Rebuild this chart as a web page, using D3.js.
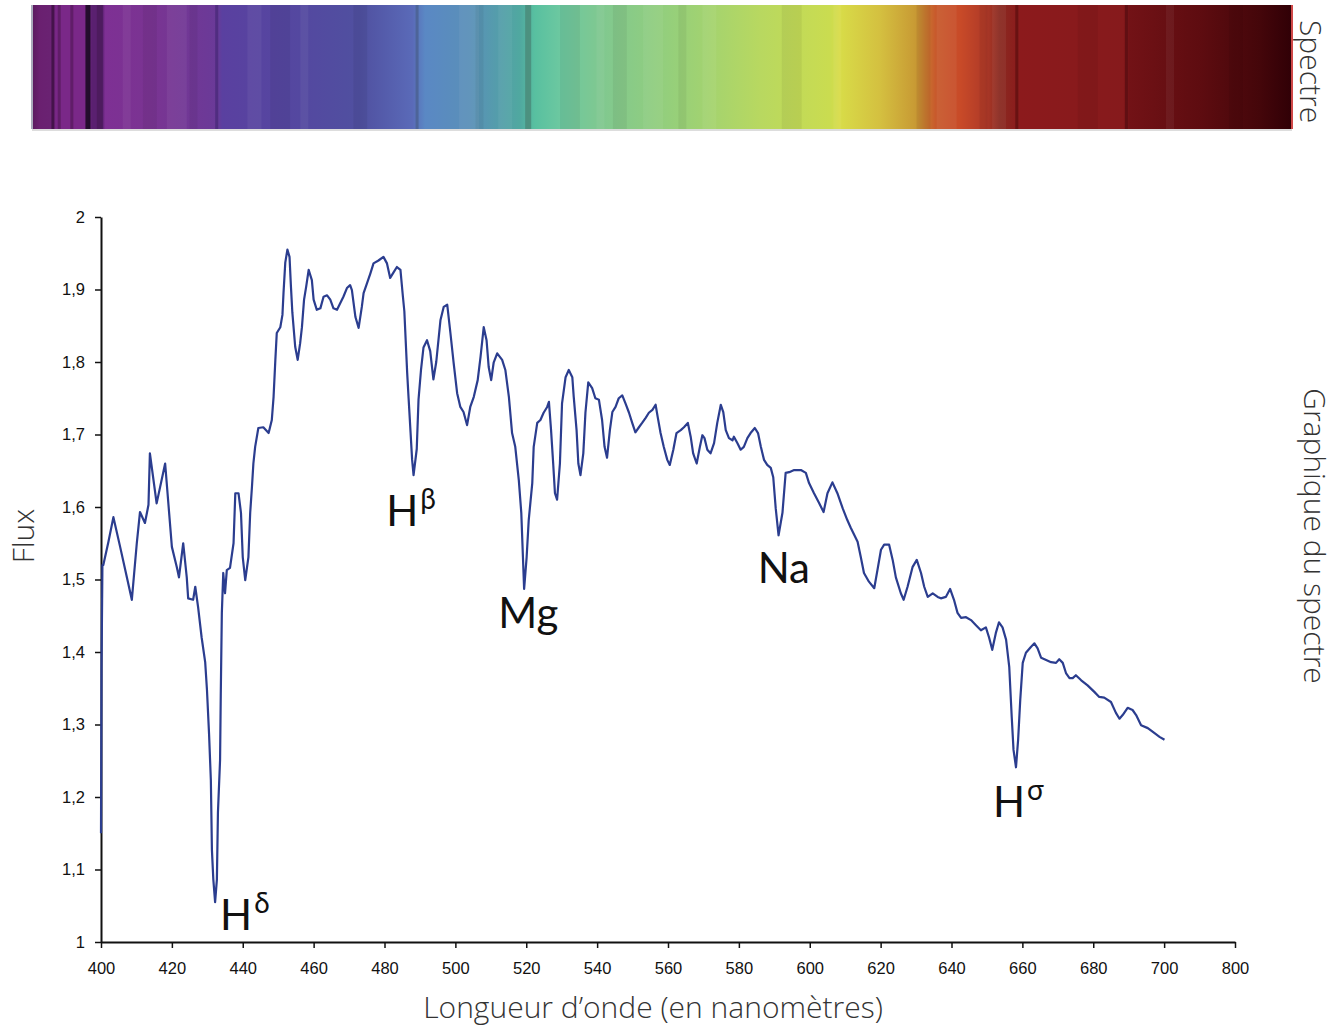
<!DOCTYPE html>
<html>
<head>
<meta charset="utf-8">
<script src="https://cdn.jsdelivr.net/npm/d3@7"></script>
<style>
  body { margin: 0; background: #fff; }
  svg { display: block; }
  .tick text { font-family: "Liberation Sans", Arial, sans-serif; font-size: 16.5px; fill: #111; }
  .title { font-family: "Open Sans", sans-serif; font-weight: 300; font-size: 30px; fill: #333; }
  .line-label { font-family: Lato, "Open Sans", sans-serif; font-size: 42px; fill: #111; }
</style>
</head>
<body>
<div id="chart"></div>
<script>
const width = 1341;
const height = 1026;

// spectrum curve
const wavelengths = [
  400.0, 400.15, 400.4, 400.65, 402.1, 403.5, 405.4, 407.3, 408.7, 410.1, 411.0, 412.4, 413.4, 413.8, 415.7, 418.1,
  420.0, 421.4, 422.0, 423.2, 424.2, 424.6, 426.0, 426.6, 427.4, 428.4, 429.4, 429.9, 430.5, 431.0, 431.3, 431.7,
  432.2, 432.7, 433.0, 433.6, 433.8, 434.1, 434.5, 435.0, 435.5, 436.4, 437.4, 437.9, 438.8, 439.5, 440.0, 440.7,
  441.6, 442.1, 442.6, 443.0, 443.5, 444.4, 445.8, 447.3, 448.2, 448.7, 449.2, 449.6, 450.6, 451.2, 451.5, 452.0,
  452.6, 453.2, 453.6, 454.0, 454.8, 455.5, 456.2, 456.7, 457.3, 457.9, 458.6, 459.5, 460.0, 460.9, 461.9, 462.8,
  463.8, 464.7, 465.6, 466.6, 467.5, 468.4, 469.4, 470.3, 470.8, 471.8, 472.7, 473.6, 474.1, 475.1, 476.0, 476.9,
  478.3, 479.7, 480.7, 481.6, 482.6, 483.5, 484.5, 485.2, 485.6, 486.4, 486.8, 487.8, 488.2, 489.1, 489.6, 490.3,
  491.0, 492.0, 492.9, 493.8, 494.6, 495.8, 496.7, 497.7, 498.6, 499.5, 500.5, 501.4, 502.3, 503.3, 504.2, 505.2,
  506.3, 507.1, 508.0, 508.8, 509.4, 510.1, 510.8, 511.8, 513.2, 514.1, 515.1, 516.0, 516.9, 517.9, 518.6, 519.4,
  520.1, 520.7, 521.7, 522.1, 523.1, 524.0, 524.9, 525.9, 526.4, 527.0, 527.6, 528.1, 528.7, 529.5, 530.1, 531.1,
  532.0, 533.0, 533.4, 534.2, 534.7, 535.3, 536.1, 536.7, 537.5, 538.6, 539.5, 540.5, 541.4, 542.1, 542.8, 543.6,
  544.3, 545.2, 546.1, 547.1, 548.0, 549.0, 549.9, 550.8, 551.8, 552.7, 553.7, 554.6, 555.6, 556.5, 557.1, 557.9,
  558.8, 559.8, 560.5, 561.5, 562.4, 563.6, 564.5, 565.6, 566.4, 567.1, 568.1, 569.0, 569.7, 570.3, 571.1, 572.0,
  573.0, 573.9, 574.9, 575.6, 576.3, 577.2, 578.2, 578.6, 579.6, 580.5, 581.4, 582.4, 583.3, 584.5, 585.4, 586.2,
  587.1, 588.0, 589.0, 589.7, 590.4, 591.2, 592.3, 593.2, 594.2, 595.6, 597.5, 598.9, 599.8, 601.2, 602.6, 603.9,
  605.0, 606.4, 607.8, 609.3, 610.6, 611.6, 613.5, 614.4, 615.3, 616.7, 618.2, 619.1, 620.1, 621.0, 622.4, 623.4,
  624.3, 625.7, 626.5, 627.6, 629.0, 630.2, 631.4, 632.3, 633.3, 634.7, 636.1, 637.0, 638.4, 639.6, 640.7, 641.7,
  642.7, 644.1, 645.5, 646.9, 648.3, 649.7, 650.6, 651.5, 652.5, 653.4, 654.4, 655.4, 656.3, 657.0, 657.5, 658.2,
  658.8, 659.4, 660.1, 661.0, 662.4, 663.4, 664.3, 665.3, 666.7, 668.1, 669.5, 670.4, 671.4, 672.3, 673.3, 674.2,
  675.1, 676.6, 678.4, 680.3, 681.7, 683.1, 685.0, 686.4, 687.4, 688.3, 689.7, 691.1, 692.1, 693.5, 695.4, 697.3,
  698.7, 700.1
];
const flux = [
  1.150, 1.380, 1.520, 1.520, 1.552, 1.586, 1.545, 1.503, 1.472, 1.550, 1.593, 1.578, 1.603, 1.674, 1.605, 1.660,
  1.545, 1.517, 1.503, 1.550, 1.503, 1.474, 1.472, 1.490, 1.462, 1.420, 1.386, 1.348, 1.286, 1.223, 1.127, 1.086,
  1.055, 1.086, 1.179, 1.251, 1.343, 1.454, 1.509, 1.481, 1.513, 1.516, 1.550, 1.619, 1.619, 1.592, 1.531, 1.499,
  1.531, 1.592, 1.628, 1.660, 1.683, 1.709, 1.710, 1.702, 1.720, 1.752, 1.803, 1.840, 1.848, 1.865, 1.895, 1.937,
  1.955, 1.945, 1.904, 1.868, 1.821, 1.803, 1.826, 1.848, 1.886, 1.904, 1.927, 1.913, 1.886, 1.872, 1.874, 1.890,
  1.892, 1.886, 1.874, 1.872, 1.881, 1.890, 1.902, 1.906, 1.899, 1.862, 1.847, 1.876, 1.895, 1.909, 1.922, 1.936,
  1.940, 1.945, 1.936, 1.916, 1.924, 1.931, 1.927, 1.890, 1.870, 1.785, 1.750, 1.665, 1.644, 1.680, 1.748, 1.789,
  1.820, 1.830, 1.815, 1.776, 1.800, 1.858, 1.876, 1.879, 1.840, 1.799, 1.757, 1.738, 1.731, 1.713, 1.738, 1.752,
  1.775, 1.807, 1.848, 1.830, 1.793, 1.775, 1.799, 1.812, 1.803, 1.789, 1.752, 1.702, 1.683, 1.637, 1.592, 1.487,
  1.530, 1.582, 1.633, 1.683, 1.716, 1.720, 1.730, 1.738, 1.745, 1.706, 1.660, 1.619, 1.610, 1.660, 1.743, 1.779,
  1.789, 1.779, 1.752, 1.706, 1.660, 1.644, 1.674, 1.730, 1.772, 1.764, 1.750, 1.748, 1.720, 1.683, 1.668, 1.706,
  1.731, 1.738, 1.750, 1.754, 1.743, 1.730, 1.716, 1.703, 1.710, 1.716, 1.723, 1.730, 1.734, 1.741, 1.724, 1.702,
  1.683, 1.665, 1.658, 1.679, 1.702, 1.706, 1.710, 1.716, 1.697, 1.674, 1.660, 1.683, 1.699, 1.695, 1.679, 1.674,
  1.688, 1.716, 1.741, 1.731, 1.706, 1.695, 1.692, 1.697, 1.688, 1.679, 1.683, 1.695, 1.702, 1.709, 1.702, 1.683,
  1.665, 1.658, 1.654, 1.641, 1.598, 1.561, 1.592, 1.647, 1.648, 1.651, 1.651, 1.647, 1.633, 1.619, 1.606, 1.593,
  1.619, 1.634, 1.619, 1.598, 1.582, 1.571, 1.552, 1.531, 1.509, 1.497, 1.488, 1.513, 1.541, 1.548, 1.548, 1.527,
  1.503, 1.481, 1.472, 1.490, 1.517, 1.527, 1.509, 1.490, 1.476, 1.481, 1.476, 1.474, 1.476, 1.487, 1.472, 1.454,
  1.447, 1.448, 1.444, 1.437, 1.430, 1.434, 1.420, 1.403, 1.426, 1.441, 1.434, 1.417, 1.379, 1.310, 1.265, 1.241,
  1.279, 1.334, 1.385, 1.399, 1.407, 1.412, 1.405, 1.392, 1.389, 1.386, 1.385, 1.390, 1.385, 1.371, 1.364, 1.364,
  1.368, 1.361, 1.354, 1.345, 1.338, 1.337, 1.331, 1.316, 1.308, 1.313, 1.323, 1.320, 1.313, 1.299, 1.295, 1.288,
  1.283, 1.279
];

const xTickValues = [400, 420, 440, 460, 480, 500, 520, 540, 560, 580, 600, 620, 640, 660, 680, 700, 720];
const xTickLabels = ['400', '420', '440', '460', '480', '500', '520', '540', '560', '580', '600', '620', '640', '660', '680', '700', '800'];
const yTickValues = [1, 1.1, 1.2, 1.3, 1.4, 1.5, 1.6, 1.7, 1.8, 1.9, 2];

// absorption line labels
const lineNames = ['H', 'H', 'Mg', 'Na', 'H'];
const lineSup = ['δ', 'β', '', '', 'σ'];
const lineWavelength = [433.6, 480.5, 512.1, 585.3, 651.7];
const lineFlux = [1.017, 1.574, 1.433, 1.495, 1.172];

// colour bar across the top
const barOffsets = [0, 0.006, 0.014, 0.020, 0.042, 0.048, 0.056, 0.058, 0.094, 0.147, 0.151, 0.213, 0.260, 0.302, 0.312,
  0.348, 0.387, 0.399, 0.419, 0.451, 0.514, 0.578, 0.633, 0.641, 0.673, 0.701, 0.717, 0.737, 0.756, 0.768, 0.784,
  0.866, 0.871, 0.927, 0.975, 1];
const barColors = ['#5a1a5e', '#6a2070', '#6a2272', '#7a2888', '#7a2888', '#5a2070', '#5a2070', '#7e3094', '#7a3492',
  '#6a3a98', '#5a40a0', '#5448a0', '#5050a0', '#5a6ab8', '#5a88c4', '#5a90b8', '#50a8a0', '#58c0a0', '#6cc8a0',
  '#80c890', '#98d078', '#b8d860', '#cadc50', '#d8dc48', '#d4c040', '#c89a34', '#c85a2c', '#c84a28', '#b03a28',
  '#8a2a20', '#8c1a1c', '#861a1c', '#721216', '#5e0c10', '#44060a', '#300006'];
const barLineAt = [0.017, 0.022, 0.032, 0.044, 0.053, 0.147, 0.306, 0.393, 0.782, 0.869];
const barLineColor = ['#3a0f3e', '#5a1a60', '#5a1a60', '#120818', '#4a1a5a', '#4a2a7a', '#4a6090', '#4a8878', '#601010', '#5a0e12'];
// faint stripes that give the bar its banded look
const barStripeAt = [0.072, 0.088, 0.107, 0.125, 0.171, 0.189, 0.213, 0.255, 0.339, 0.352, 0.370, 0.419, 0.448, 0.461,
  0.485, 0.513, 0.532, 0.595, 0.636, 0.702, 0.718, 0.752, 0.762, 0.830, 0.900, 0.950];

const svg = d3.select('#chart').append('svg')
    .attr('width', width)
    .attr('height', height);

// ---- spectrum bar ----
const bar = { x: 32, y: 5, w: 1260, h: 124 };
const barScale = d3.scaleLinear().domain([0, 1]).range([bar.x, bar.x + bar.w]);

const grad = svg.append('defs').append('linearGradient')
    .attr('id', 'spec')
    .attr('x1', '0%').attr('x2', '100%');
grad.selectAll('stop')
    .data(barOffsets)
    .enter().append('stop')
    .attr('offset', d => d)
    .attr('stop-color', (d, i) => barColors[i]);

svg.append('rect')
    .attr('x', bar.x).attr('y', bar.y)
    .attr('width', bar.w).attr('height', bar.h)
    .attr('fill', 'url(#spec)');

svg.selectAll('.stripe')
    .data(barStripeAt)
    .enter().append('rect')
    .attr('class', 'stripe')
    .attr('x', d => barScale(d))
    .attr('y', bar.y)
    .attr('width', (d, i) => 8 + (i % 3) * 6)
    .attr('height', bar.h)
    .attr('fill', (d, i) => (i % 2 ? '#000' : '#fff'))
    .attr('opacity', 0.05);

svg.selectAll('.barline')
    .data(barLineAt)
    .enter().append('rect')
    .attr('class', 'barline')
    .attr('x', d => barScale(d) - 2)
    .attr('y', bar.y)
    .attr('width', (d, i) => (i === 3 ? 5 : i === 7 || i === 4 ? 6 : 3))
    .attr('height', bar.h)
    .attr('fill', (d, i) => barLineColor[i])
    .attr('opacity', 0.8);

svg.append('line')
    .attr('x1', bar.x).attr('x2', bar.x)
    .attr('y1', bar.y).attr('y2', bar.y + bar.h)
    .attr('stroke', '#aab').attr('stroke-width', 2);
svg.append('line')
    .attr('x1', bar.x + bar.w).attr('x2', bar.x + bar.w)
    .attr('y1', bar.y).attr('y2', bar.y + bar.h)
    .attr('stroke', '#d04848').attr('stroke-width', 2);
svg.append('line')
    .attr('x1', bar.x).attr('x2', bar.x + bar.w)
    .attr('y1', bar.y + bar.h + 1).attr('y2', bar.y + bar.h + 1)
    .attr('stroke', '#ddd').attr('stroke-width', 2);

svg.append('text')
    .attr('class', 'title')
    .attr('transform', 'translate(1300,20) rotate(90)')
    .attr('text-anchor', 'start')
    .text('Spectre');

// ---- chart ----
const x = d3.scaleLinear().domain([400, 720]).range([101, 1235]);
const y = d3.scaleLinear().domain([1, 2]).range([942, 217]);

svg.append('g')
    .attr('transform', `translate(0,${y(1)})`)
    .call(d3.axisBottom(x)
        .tickValues(xTickValues)
        .tickFormat((d, i) => xTickLabels[i])
        .tickSize(6)
        .tickSizeOuter(0)
        .tickPadding(14));

svg.append('g')
    .attr('transform', `translate(${x(400)},0)`)
    .call(d3.axisLeft(y)
        .tickValues(yTickValues)
        .tickFormat(d => String(+d.toFixed(1)).replace('.', ','))
        .tickSize(6)
        .tickSizeOuter(0)
        .tickPadding(10));

svg.selectAll('.domain').attr('stroke', '#111').attr('stroke-width', 2);
svg.selectAll('.tick line').attr('stroke', '#111').attr('stroke-width', 1.5);

const points = wavelengths.map((w, i) => [w, flux[i]]);
svg.append('path')
    .datum(points)
    .attr('fill', 'none')
    .attr('stroke', '#2b3d8f')
    .attr('stroke-width', 2.2)
    .attr('stroke-linejoin', 'round')
    .attr('d', d3.line().x(d => x(d[0])).y(d => y(d[1])));

const labels = svg.selectAll('.line-label')
    .data(lineNames)
    .enter().append('text')
    .attr('class', 'line-label')
    .attr('x', (d, i) => x(lineWavelength[i]))
    .attr('y', (d, i) => y(lineFlux[i]));
labels.append('tspan').text(d => d);
labels.append('tspan')
    .attr('font-size', 28)
    .attr('dx', 2)
    .attr('dy', -17)
    .text((d, i) => lineSup[i]);

svg.append('text')
    .attr('class', 'title')
    .attr('x', 653).attr('y', 1018)
    .attr('text-anchor', 'middle')
    .text('Longueur d’onde (en nanomètres)');

svg.append('text')
    .attr('class', 'title')
    .attr('transform', 'translate(34,536) rotate(-90)')
    .attr('text-anchor', 'middle')
    .text('Flux');

svg.append('text')
    .attr('class', 'title')
    .attr('transform', 'translate(1304,536) rotate(90)')
    .attr('text-anchor', 'middle')
    .text('Graphique du spectre');
</script>
</body>
</html>
